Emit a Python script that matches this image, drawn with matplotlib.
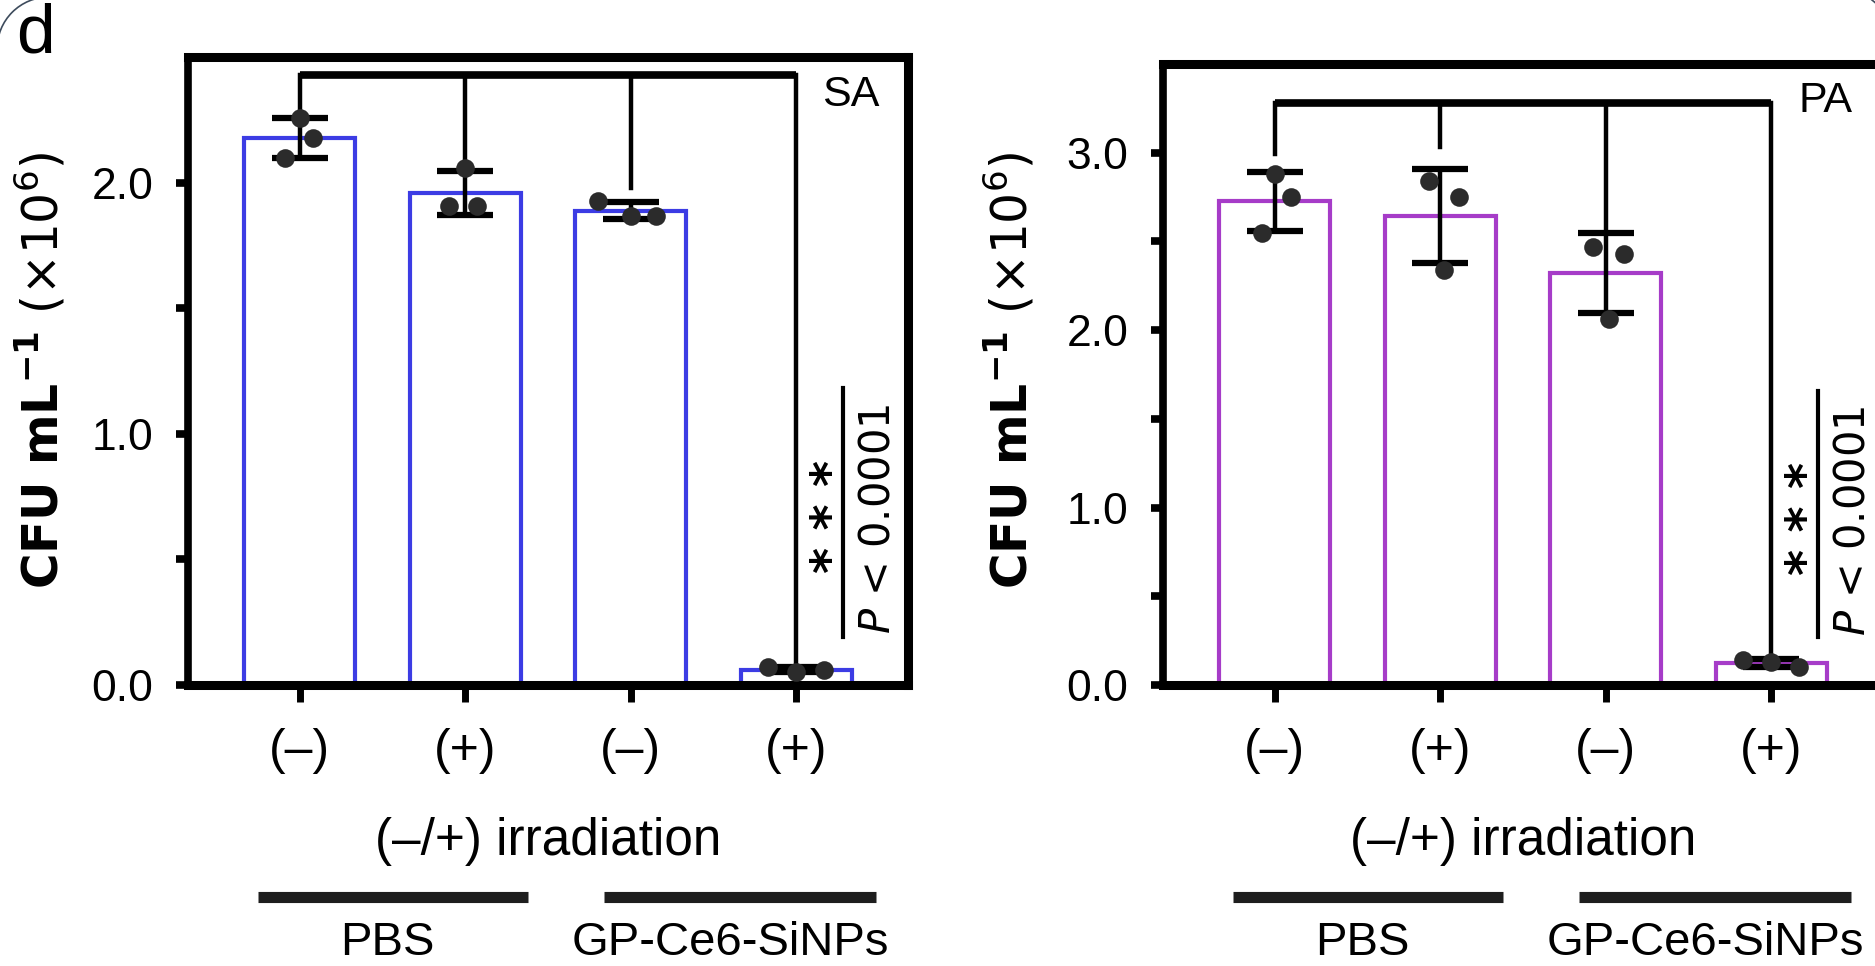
import matplotlib
matplotlib.use('Agg')
import matplotlib.pyplot as plt
from matplotlib import transforms
from matplotlib.patches import Arc
import numpy as np

plt.rcParams['font.family'] = ['Liberation Sans', 'DejaVu Sans']
plt.rcParams['mathtext.fontset'] = 'custom'
plt.rcParams['mathtext.rm'] = 'DejaVu Sans'
plt.rcParams['mathtext.it'] = 'DejaVu Sans:italic'
plt.rcParams['mathtext.bf'] = 'DejaVu Sans:bold'

# datos (CFU mL-1, x10^6), tres replicas por barra
irradiation = ['(–)', '(+)', '(–)', '(+)']
groups = ['PBS', 'GP-Ce6-SiNPs']
sa_points = [[2.26, 2.18, 2.10], [2.06, 1.91, 1.91], [1.93, 1.87, 1.87], [0.07, 0.05, 0.06]]
pa_points = [[2.88, 2.75, 2.55], [2.84, 2.75, 2.34], [2.47, 2.43, 2.06], [0.14, 0.13, 0.10]]
p_text = r'$\it{P}$ < 0.0001'
stars = '* * *'

# desplazamiento horizontal de los puntos
sa_jitter = [[0.0, 0.08, -0.09], [0.0, -0.1, 0.07], [-0.2, 0.0, 0.15], [-0.17, 0.0, 0.17]]
pa_jitter = [[0.0, 0.1, -0.08], [-0.07, 0.11, 0.02], [-0.08, 0.11, 0.02], [-0.17, 0.0, 0.17]]

fig = plt.figure(figsize=(18.75, 9.66), dpi=100)

panels = [
    dict(name='SA', pts=sa_points, jit=sa_jitter, color='#3c3ce4', ymax=2.5,
         pos=[0.1003, 0.2909, 0.384, 0.6496], bracket=2.43,
         stops=[2.30, 2.07, 1.98, None], ylab_x=0.022),
    dict(name='PA', pts=pa_points, jit=pa_jitter, color='#a63cc8', ymax=3.5,
         pos=[0.6203, 0.2909, 0.384, 0.6429], bracket=3.28,
         stops=[2.99, 3.03, 2.57, None], ylab_x=0.5387),
]

for p in panels:
    ax = fig.add_axes(p['pos'])
    x = np.arange(4)
    vals = [np.array(v) for v in p['pts']]
    means = np.array([v.mean() for v in vals])
    sds = np.array([v.std(ddof=1) for v in vals])

    ax.bar(x, means, width=0.67, facecolor='white', edgecolor=p['color'], linewidth=3, zorder=2)
    ax.errorbar(x, means, yerr=sds, fmt='none', ecolor='black', elinewidth=3.2,
                capsize=20, capthick=4.5, zorder=3)
    for i in range(4):
        ax.scatter(x[i] + np.array(p['jit'][i]), vals[i], s=180, color='#2b2b2b', zorder=4, linewidths=0)

    # corchete de comparacion
    ax.plot([0, 3], [p['bracket'], p['bracket']], color='black', lw=5.5, solid_capstyle='butt', zorder=3)
    for i in range(4):
        stop = p['stops'][i] if p['stops'][i] is not None else means[i]
        ax.plot([i, i], [p['bracket'], stop], color='black', lw=3.2, zorder=3)

    trans = transforms.blended_transform_factory(ax.transData, ax.transAxes)
    ax.plot([3.28, 3.28], [0.077, 0.473], color='black', lw=3, transform=trans)
    ax.text(3.22, 0.268, stars, transform=trans, rotation=90, ha='center', va='center',
            fontsize=36, fontweight='bold', family='DejaVu Sans')
    ax.text(3.49, 0.265, p_text, transform=trans, rotation=90, ha='center', va='center',
            fontsize=30, family='DejaVu Sans')
    ax.text(3.33, 0.94, p['name'], transform=trans, ha='center', va='center', fontsize=31)

    # etiquetas inferiores
    ftrans = transforms.blended_transform_factory(ax.transData, fig.transFigure)
    ax.text(1.5, 0.129, '(–/+) irradiation', transform=ftrans, ha='center', va='center', fontsize=37)
    ax.plot([-0.25, 1.38], [0.0714, 0.0714], color='#1e1e1e', lw=8, transform=ftrans,
            clip_on=False, solid_capstyle='butt')
    ax.plot([1.84, 3.48], [0.0714, 0.0714], color='#1e1e1e', lw=8, transform=ftrans,
            clip_on=False, solid_capstyle='butt')
    ax.text(0.53, 0.011, groups[0], transform=ftrans, ha='center', va='baseline', fontsize=34)
    ax.text(2.6, 0.011, groups[1], transform=ftrans, ha='center', va='baseline', fontsize=34)

    ax.set_xlim(-0.675, 3.675)
    ax.set_ylim(0, p['ymax'])
    ax.set_xticks(x)
    ax.set_xticklabels(irradiation, fontsize=36)
    ax.set_yticks(np.arange(0, p['ymax'] + 0.01, 1.0))
    ax.set_yticklabels([f'{v:.1f}' for v in np.arange(0, p['ymax'] + 0.01, 1.0)], fontsize=32)
    ax.set_yticks(np.arange(0.5, p['ymax'], 1.0), minor=True)
    ax.tick_params(axis='x', length=12, width=5, pad=19)
    ax.tick_params(axis='y', which='both', length=9, width=5.5, pad=16)
    for side in ['top', 'bottom', 'right']:
        ax.spines[side].set_linewidth(6.5)
    ax.spines['left'].set_linewidth(5.5)

    fig.text(p['ylab_x'], 0.616, r'$\mathbf{CFU\ mL^{-1}}$ (×10$^{6}$)', rotation=90,
             ha='center', va='center', fontsize=35, family='DejaVu Sans')

fig.text(0.0085, 0.997, 'd', ha='left', va='top', fontsize=50)

# esquinas redondeadas del recuadro original (solo asoman las de arriba)
r = 52
c = r - 3
for cx, cy, t1, t2 in [(c, 966 - c, 90, 180), (1875 - c + 14, 966 - c + 8, 0, 90)]:
    fig.add_artist(Arc((cx, cy), 2 * r, 2 * r, theta1=t1, theta2=t2,
                       transform=transforms.IdentityTransform(), color='#3d4b5c', lw=1.2))

fig.savefig('out.png', dpi=100)
